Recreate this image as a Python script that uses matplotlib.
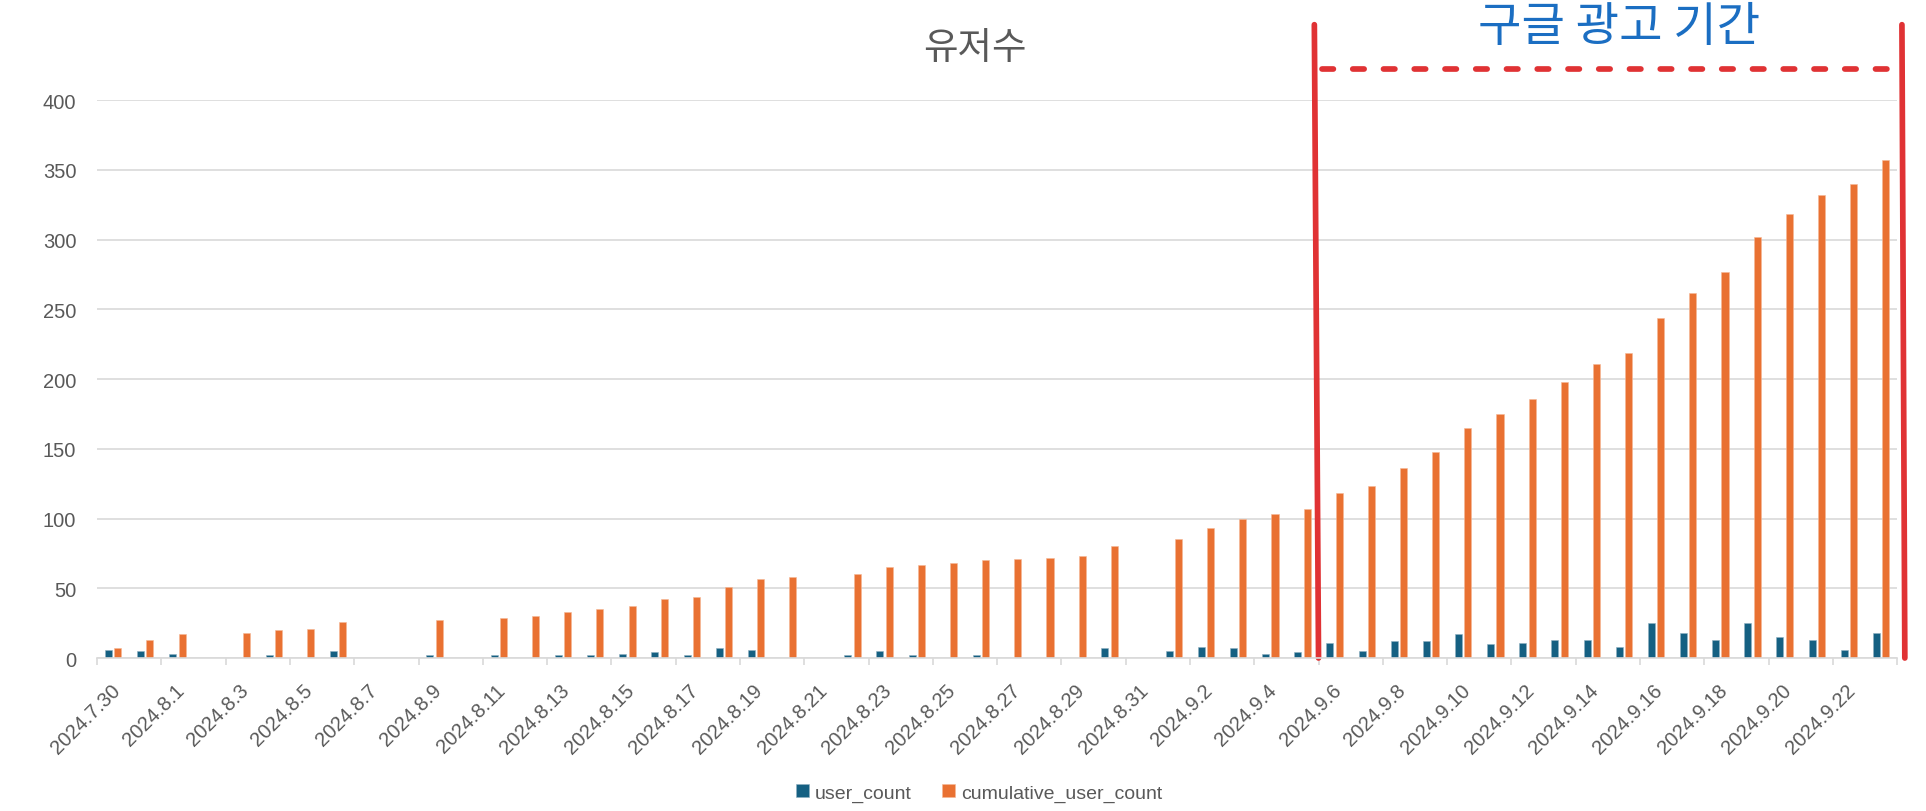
import numpy as np
import matplotlib
matplotlib.use('Agg')
import matplotlib.pyplot as plt
import matplotlib.transforms as mtransforms

plt.rcParams['font.family'] = ['Liberation Sans', 'Noto Sans CJK KR', 'DejaVu Sans']

# 날짜 (카테고리)
dates = ['2024.7.30', '2024.7.31',
         '2024.8.1', '2024.8.2', '2024.8.3', '2024.8.4', '2024.8.5', '2024.8.6', '2024.8.7',
         '2024.8.8', '2024.8.9', '2024.8.10', '2024.8.11', '2024.8.12', '2024.8.13', '2024.8.14',
         '2024.8.15', '2024.8.16', '2024.8.17', '2024.8.18', '2024.8.19', '2024.8.20', '2024.8.21',
         '2024.8.22', '2024.8.23', '2024.8.24', '2024.8.25', '2024.8.26', '2024.8.27', '2024.8.28',
         '2024.8.29', '2024.8.30', '2024.8.31',
         '2024.9.1', '2024.9.2', '2024.9.3', '2024.9.4', '2024.9.5', '2024.9.6', '2024.9.7',
         '2024.9.8', '2024.9.9', '2024.9.10', '2024.9.11', '2024.9.12', '2024.9.13', '2024.9.14',
         '2024.9.15', '2024.9.16', '2024.9.17', '2024.9.18', '2024.9.19', '2024.9.20', '2024.9.21',
         '2024.9.22', '2024.9.23']

nan = np.nan
# 일별 유저수
user_count = [6, 5, 3, nan, 0, 2, 0, 5, nan, nan,
              2, nan, 2, 0, 2, 2, 3, 4, 2, 7,
              6, 0, nan, 2, 5, 2, 0, 2, 0, 0,
              0, 7, nan, 5, 8, 7, 3, 4, 11, 5,
              12, 12, 17, 10, 11, 13, 13, 8, 25, 18,
              13, 25, 15, 13, 6, 18]
# 누적 유저수
cumulative_user_count = [7, 13, 17, nan, 18, 20, 21, 26, nan, nan,
                         27, nan, 29, 30, 33, 35, 37, 42, 44, 51,
                         57, 58, nan, 60, 65, 67, 68, 70, 71, 72,
                         73, 80, nan, 85, 93, 100, 103, 107, 118, 123,
                         136, 148, 165, 175, 186, 198, 211, 219, 244, 262,
                         277, 302, 318, 332, 340, 357]

blue = '#156082'
orange = '#e97132'
gray = '#595959'
red = '#e03234'

fig = plt.figure(figsize=(19.26, 8.12), dpi=100)
ax = fig.add_axes([0.0504, 0.1884, 0.9346, 0.6872])

x = np.arange(len(dates))
w = 0.22
ax.bar(x - 0.145, user_count, w, color=blue, edgecolor='#8fb0c0', linewidth=0.4,
       label='user_count')
ax.bar(x + 0.145, cumulative_user_count, w, color=orange, edgecolor='#f5b896', linewidth=0.4,
       label='cumulative_user_count')

ax.set_xlim(-0.5, len(dates) - 0.5)
ax.set_ylim(0, 400)
ax.set_yticks(range(0, 401, 50))
ax.yaxis.grid(True, color='#d9d9d9', lw=1.2)
ax.set_axisbelow(True)
for s in ['top', 'right', 'left']:
    ax.spines[s].set_visible(False)
ax.spines['bottom'].set_color('#d9d9d9')
ax.spines['bottom'].set_linewidth(1.2)

ax.tick_params(axis='y', length=0, labelsize=14.5, labelcolor=gray, pad=15)
ax.set_xticks(x[::2])
ax.set_xticklabels(dates[::2], rotation=45, ha='right', va='top',
                   rotation_mode='anchor', fontsize=14.5, color=gray)
ax.tick_params(axis='x', which='major', length=0, pad=16)
shift = mtransforms.ScaledTranslation(-3 / 100, 0, fig.dpi_scale_trans)
for lab in ax.get_xticklabels():
    lab.set_transform(lab.get_transform() + shift)
ax.set_xticks(np.arange(-0.5, len(dates), 2), minor=True)
ax.tick_params(axis='x', which='minor', length=5, width=1.2, color='#d9d9d9')

# 제목
fig.text(975 / 1926, 1 - 48 / 812, '유저수', ha='center', va='center',
         fontsize=27, color=gray, family=['Noto Sans CJK KR'])

# 구글 광고 기간 표시
fig.text(1619 / 1926, 1 - 28 / 812, '구글 광고 기간', ha='center', va='center',
         fontsize=34, color='#1b6ec2', family=['Noto Sans CJK KR'])
ax.plot([37.37, 37.5], [454, 0], color=red, lw=4.1, solid_capstyle='round', clip_on=False)
ax.plot([55.65, 55.74], [454, 0], color=red, lw=4.1, solid_capstyle='round', clip_on=False)
ax.plot([37.6, 55.4], [422, 422], color=red, lw=4.1, dashes=(2.0, 3.4),
        dash_capstyle='round', clip_on=False)

fig.legend(loc='center', bbox_to_anchor=(979 / 1926, 1 - 794 / 812), ncol=2,
           frameon=False, fontsize=14, labelcolor=gray, handlelength=0.65,
           handleheight=0.65, handletextpad=0.3, columnspacing=1.6)

fig.savefig('out.png', dpi=100)
